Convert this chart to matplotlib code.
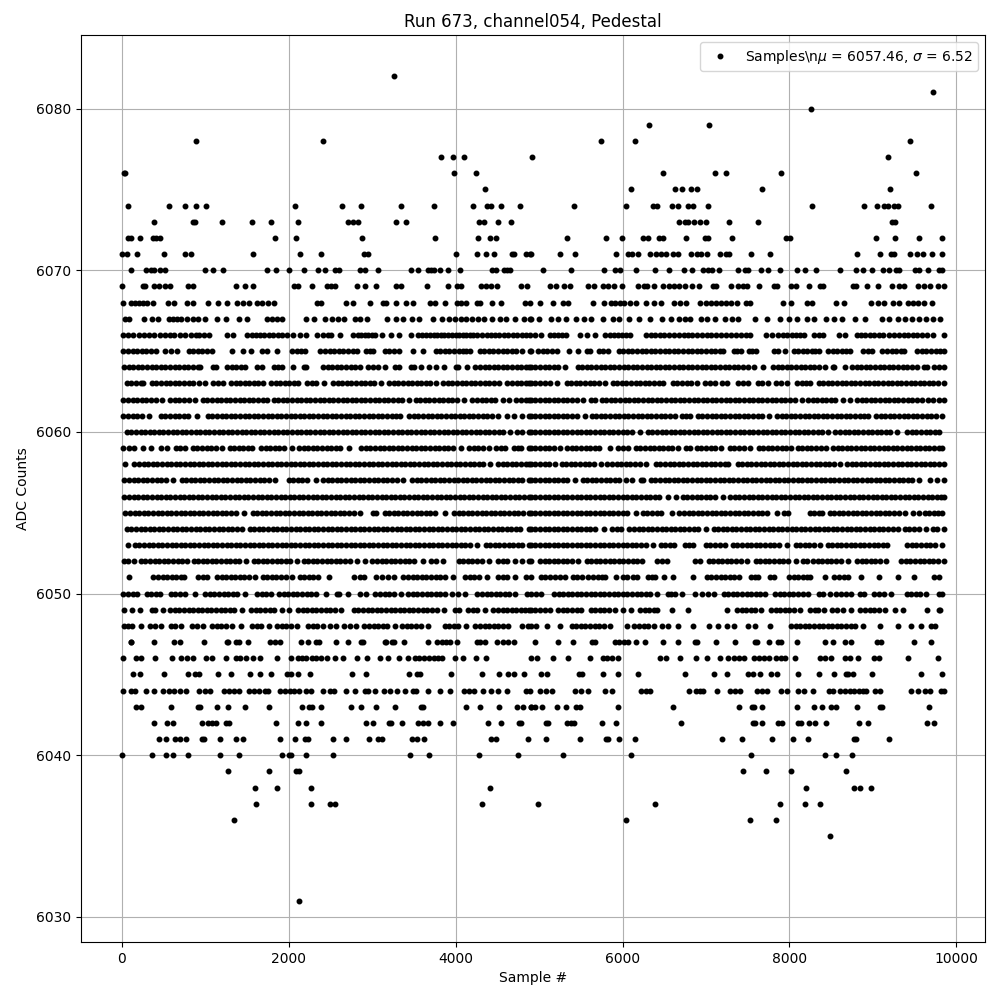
import matplotlib
matplotlib.use("Agg")
import matplotlib.pyplot as plt

s6082=[3256]
s6081=[9716]
s6080=[8255]
s6079=[6315,7034]
s6078=[892,2416,5740,6147,9441]
s6077=[3820,3964,4096,4918,9177]
s6076=[28,44,3976,4240,6483,7105,7237,7896,9512]
s6075=[4348,6100,6627,6715,6818,6886,7668,9201]
s6074=[76,568,760,892,1012,2080,2644,2872,3340,3736,4204,4380,4420,4540,4768,5417,6040,6359,6415,6591,6663,6782,6838,7022,8267,8890,9046,9130,9177,9249,9297,9692]
s6073=[388,856,876,1204,1564,1792,2116,2716,2776,2836,3280,3400,4276,4336,4504,4660,6674,6746,6782,6854,6926,6998,7273,7620,9225,9265]
s6072=[76,116,220,372,412,456,1840,2092,2884,3748,4264,4408,4480,5333,5800,5992,6243,6303,6435,6483,6758,6986,7022,7309,7956,8004,9034,9261,9549,9824]
s6071=[4,68,184,508,760,832,1576,2140,2392,2908,2948,4000,4252,4360,4456,4672,4696,4840,4888,4898,5249,5429,5920,6064,6112,6184,6327,6399,6459,6519,6603,6663,6818,6894,6938,7010,7165,7237,7273,7537,7764,8806,9082,9213,9249,9441,9525,9597,9705,9824]
s6070=[112,292,352,388,460,520,1000,1096,1216,1744,1852,2008,2188,2356,2440,2560,2608,2860,2920,3064,3460,3544,3664,3700,3736,3808,3904,4048,4432,4480,4576,4612,4648,5046,5381,5776,5908,5968,6159,6387,6555,6734,6830,6962,7022,7070,7154,7381,7465,7501,7657,7741,7884,8087,8183,8315,8603,8795,8878,8986,9118,9189,9273,9309,9501,9549,9655,9787,9824]
s6069=[4,256,280,388,448,520,580,796,856,1372,1480,1576,2068,2116,2284,2464,2512,2560,2824,2920,3052,3280,3340,3652,3904,4012,4060,4300,4360,4420,4492,4780,4852,5130,5202,5298,5370,5586,5658,5766,5826,5898,5994,6186,6258,6294,6378,6486,6558,6618,6678,6750,6834,6918,7086,7122,7302,7386,7446,7494,7638,7818,7854,8022,8082,8230,8370,8406,8766,8802,8934,9066,9234,9306,9366,9534,9606,9678,9774,9850]
s6068=[16,112,160,208,256,304,376,556,628,784,856,1036,1156,1264,1384,1456,1528,1624,1684,1756,1828,2344,2392,2692,2776,2980,3124,3160,3280,3400,3484,3688,3748,3868,4012,4060,4120,4252,4288,4432,4540,4828,4888,5010,5166,5286,5346,5646,5778,5862,5910,5970,6018,6090,6162,6282,6378,6462,6618,6690,6762,6930,7002,7062,7122,7182,7242,7302,7374,7482,7530,7926,8022,8214,8274,8562,8658,8982,9066,9138,9246,9306,9414,9474,9534,9606,9702]
s6067=[40,88,268,364,436,568,616,664,712,784,856,916,1000,1144,1252,1408,1504,1744,1804,1864,1924,2212,2308,2440,2524,2596,2668,2800,2860,2944,3172,3280,3364,3472,3556,3724,3832,3916,3988,4060,4120,4192,4264,4336,4432,4528,4600,4708,4816,4888,4898,4998,5142,5226,5322,5442,5538,5622,5766,5886,5958,6078,6198,6330,6474,6582,6678,6750,6810,6942,7014,7110,7230,7314,7386,7590,7734,7890,7998,8094,8214,8298,8442,8538,8634,8790,8910,9114,9198,9294,9378,9462,9546,9630,9714,9798]
s6066=[16,72,136,208,268,328,388,460,520,580,628,700,760,832,890,928,990,1048,1264,1336,1504,1560,1612,1660,1708,1760,1816,1870,1916,1980,2056,2140,2212,2344,2416,2470,2512,2620,2776,2825,2872,2915,2956,3000,3040,3112,3220,3316,3460,3544,3595,3640,3690,3736,3780,3820,3865,3904,3955,4000,4040,4084,4125,4168,4210,4252,4310,4372,4420,4468,4520,4576,4630,4684,4740,4792,4840,4888,4950,5018,5130,5180,5226,5275,5322,5490,5574,5670,5790,5850,5898,5945,5994,6040,6090,6282,6335,6390,6445,6498,6560,6618,6680,6738,6785,6834,6895,6954,7010,7062,7120,7182,7240,7302,7360,7422,7475,7530,7722,7790,7866,7920,7974,8030,8082,8130,8178,8298,8350,8406,8598,8670,8814,8860,8910,8965,9018,9070,9126,9190,9258,9310,9366,9420,9474,9530,9582,9650,9714,9846]
s6065=[20,75,130,185,240,295,350,416,520,590,656,800,855,910,965,1020,1076,1324,1456,1552,1680,1736,1864,2040,2095,2150,2196,2380,2435,2490,2545,2600,2655,2710,2765,2816,2928,2975,3016,3148,3205,3260,3316,3488,3604,3760,3815,3870,3925,3980,4035,4090,4130,4176,4288,4343,4398,4453,4508,4563,4618,4673,4728,4796,4888,4898,4990,5045,5100,5160,5218,5362,5466,5570,5614,5714,5770,5830,5954,6009,6064,6119,6174,6229,6284,6339,6394,6449,6504,6559,6614,6669,6724,6779,6834,6889,6944,6999,7054,7109,7164,7206,7330,7370,7414,7514,7555,7594,7810,7866,7950,8050,8105,8160,8215,8270,8310,8354,8466,8520,8575,8630,8680,8722,8882,8935,8986,9114,9170,9225,9280,9330,9370,9530,9585,9640,9695,9750,9805,9850]
s6064=[28,83,138,193,248,303,358,413,468,523,578,633,688,743,798,853,908,936,1092,1124,1260,1315,1370,1425,1476,1620,1676,1820,1870,1916,2056,2180,2204,2412,2467,2522,2577,2632,2687,2742,2797,2856,2952,3010,3068,3156,3276,3316,3468,3496,3580,3680,3770,3860,4008,4028,4132,4236,4291,4346,4401,4456,4511,4566,4621,4676,4731,4786,4841,4876,4900,4955,5010,5065,5120,5175,5230,5306,5462,5517,5572,5627,5682,5737,5792,5847,5902,5957,6012,6067,6122,6177,6232,6287,6342,6397,6452,6507,6562,6617,6672,6727,6782,6837,6892,6947,7002,7057,7112,7167,7222,7277,7332,7387,7442,7497,7570,7682,7802,7857,7912,7967,8022,8077,8132,8187,8242,8297,8352,8426,8522,8530,8670,8750,8805,8860,8915,8970,9025,9080,9135,9190,9245,9300,9355,9410,9465,9526,9610,9646,9730,9790,9846]
s6063=[60,115,170,225,256,360,415,470,525,580,635,690,745,800,855,924,1000,1092,1155,1216,1308,1363,1418,1473,1528,1583,1638,1696,1788,1843,1898,1953,2008,2063,2116,2220,2275,2330,2428,2532,2587,2642,2697,2752,2807,2862,2917,2972,3027,3108,3204,3259,3314,3369,3424,3479,3534,3589,3644,3696,3760,3852,3907,3962,4017,4072,4127,4182,4237,4292,4347,4402,4457,4524,4620,4675,4730,4785,4840,4876,4900,4955,5010,5065,5126,5218,5330,5385,5440,5495,5550,5605,5660,5715,5794,5882,5937,5992,6047,6102,6157,6212,6267,6322,6377,6432,6486,6602,6657,6712,6767,6822,6886,6986,7046,7106,7190,7254,7382,7440,7498,7622,7666,7746,7838,7894,7974,8090,8145,8200,8246,8350,8405,8460,8515,8570,8625,8680,8735,8790,8845,8900,8955,9010,9065,9120,9175,9230,9285,9340,9395,9450,9505,9560,9615,9670,9725,9780,9850]
s6062=[20,75,130,185,240,295,350,405,484,580,635,690,745,800,876,972,1027,1082,1137,1192,1247,1302,1357,1412,1467,1522,1577,1632,1687,1736,1820,1875,1930,1985,2040,2095,2150,2205,2260,2315,2370,2425,2480,2535,2590,2645,2700,2755,2810,2865,2920,2975,3030,3085,3140,3195,3250,3305,3360,3436,3520,3575,3630,3685,3740,3795,3850,3905,3960,4015,4096,4200,4255,4310,4365,4420,4476,4572,4636,4728,4783,4838,4876,4900,4955,5010,5065,5120,5175,5230,5285,5340,5395,5450,5526,5618,5666,5750,5805,5860,5915,5970,6025,6080,6135,6190,6245,6300,6355,6410,6465,6520,6575,6630,6685,6740,6795,6850,6905,6960,7015,7070,7125,7180,7235,7290,7345,7400,7455,7510,7565,7620,7675,7730,7785,7840,7895,7950,8005,8060,8146,8222,8277,8332,8387,8442,8497,8546,8638,8730,8810,8865,8920,8975,9030,9085,9140,9195,9250,9305,9360,9415,9470,9525,9586,9662,9724,9786,9850]
s6061=[20,75,130,185,240,324,468,523,578,633,688,743,796,904,1032,1087,1142,1197,1252,1307,1362,1417,1472,1527,1582,1637,1692,1747,1802,1857,1912,1967,2022,2077,2132,2187,2242,2297,2352,2407,2462,2517,2572,2627,2682,2737,2792,2847,2902,2957,3012,3067,3122,3177,3232,3287,3336,3444,3499,3554,3609,3664,3719,3774,3829,3884,3939,3994,4049,4104,4159,4214,4269,4324,4379,4434,4508,4620,4696,4800,4876,4900,4955,5010,5065,5120,5175,5230,5285,5340,5395,5450,5546,5630,5685,5740,5795,5850,5905,5960,6015,6070,6125,6180,6235,6290,6345,6400,6455,6510,6565,6626,6710,6760,6806,6902,6957,7012,7067,7122,7177,7232,7287,7342,7397,7452,7507,7562,7617,7672,7754,7850,7905,7960,8015,8070,8125,8180,8235,8290,8345,8400,8455,8510,8565,8620,8675,8730,8785,8840,8895,8946,9038,9093,9148,9203,9258,9313,9368,9423,9478,9533,9588,9643,9698,9753,9826]
s6060=[60,115,170,225,280,335,390,445,500,555,610,665,720,775,830,885,940,995,1050,1105,1160,1215,1270,1325,1380,1435,1490,1545,1600,1655,1710,1765,1820,1875,1930,1985,2040,2095,2150,2205,2260,2315,2370,2425,2480,2535,2590,2645,2700,2755,2810,2865,2920,2975,3030,3085,3140,3195,3250,3305,3360,3415,3470,3525,3580,3635,3690,3745,3800,3855,3910,3965,4020,4075,4130,4185,4240,4295,4350,4405,4460,4515,4570,4648,4740,4795,4876,4900,4955,5010,5065,5120,5175,5230,5285,5340,5395,5450,5505,5560,5615,5670,5725,5780,5835,5890,5945,6000,6055,6110,6206,6302,6357,6412,6467,6522,6577,6632,6687,6742,6797,6852,6907,6962,7017,7072,7127,7182,7237,7292,7347,7402,7457,7512,7567,7622,7677,7732,7787,7842,7897,7952,8007,8062,8117,8172,8227,8282,8337,8392,8466,8550,8605,8660,8715,8770,8825,8880,8935,8990,9045,9100,9155,9210,9286,9410,9465,9520,9575,9630,9685,9740,9786]
s6059=[20,85,148,260,348,468,548,648,700,756,852,907,962,1017,1072,1127,1196,1292,1347,1402,1457,1512,1556,1668,1723,1778,1833,1888,1943,2036,2124,2179,2234,2289,2344,2399,2454,2509,2564,2619,2724,2868,2923,2978,3033,3088,3143,3198,3253,3308,3363,3418,3473,3528,3583,3638,3693,3748,3803,3858,3913,3968,4060,4164,4219,4274,4329,4396,4484,4540,4588,4700,4750,4788,4884,4900,4955,5010,5065,5120,5175,5254,5338,5393,5448,5503,5558,5613,5668,5723,5850,5942,6005,6066,6158,6213,6268,6323,6378,6433,6488,6543,6598,6666,6758,6810,6890,6945,7000,7055,7110,7178,7286,7341,7396,7451,7526,7630,7685,7740,7795,7850,7905,7960,8018,8098,8153,8208,8263,8318,8373,8442,8522,8577,8632,8687,8742,8797,8852,8907,8962,9017,9072,9127,9182,9237,9292,9347,9402,9457,9512,9567,9622,9677,9732,9787,9826]
s6058=[38,152,207,262,317,372,427,482,537,592,647,702,757,812,867,922,977,1032,1087,1142,1197,1252,1307,1362,1417,1472,1527,1582,1637,1692,1747,1802,1857,1912,1967,2022,2077,2132,2187,2242,2297,2352,2407,2462,2517,2572,2627,2682,2737,2792,2847,2902,2957,3012,3067,3122,3177,3232,3287,3342,3397,3452,3507,3562,3617,3672,3727,3782,3837,3892,3947,4002,4057,4112,4167,4222,4277,4332,4408,4508,4563,4618,4673,4728,4783,4838,4876,4900,4955,5010,5065,5120,5186,5270,5325,5380,5435,5490,5545,5600,5655,5738,5818,5873,5928,5983,6038,6093,6148,6203,6286,6398,6453,6508,6563,6618,6673,6728,6783,6838,6893,6948,7003,7058,7113,7168,7223,7266,7378,7433,7488,7543,7598,7653,7708,7763,7818,7873,7928,7983,8038,8093,8148,8203,8258,8313,8368,8423,8478,8533,8610,8690,8745,8800,8855,8910,8965,9020,9075,9130,9185,9240,9295,9350,9405,9460,9515,9570,9625,9680,9735,9790,9850]
s6057=[32,87,142,197,252,307,362,417,472,527,616,716,771,826,881,936,991,1046,1101,1156,1211,1266,1321,1376,1431,1486,1541,1596,1651,1706,1761,1836,2000,2055,2110,2165,2220,2324,2412,2467,2522,2577,2632,2687,2742,2797,2852,2907,2962,3017,3072,3127,3182,3237,3292,3368,3480,3535,3590,3645,3700,3755,3810,3865,3920,3975,4030,4085,4140,4195,4250,4305,4360,4415,4470,4525,4580,4635,4690,4745,4800,4876,4900,4955,5010,5065,5120,5175,5230,5285,5340,5426,5522,5577,5632,5687,5742,5797,5852,5907,5962,6042,6118,6218,6250,6338,6393,6448,6503,6558,6613,6668,6723,6778,6833,6888,6943,6998,7053,7108,7163,7218,7273,7328,7383,7438,7493,7548,7603,7658,7713,7768,7823,7878,7933,7988,8043,8098,8153,8208,8263,8318,8373,8428,8483,8538,8593,8648,8703,8758,8813,8868,8923,8978,9033,9088,9143,9198,9253,9308,9363,9418,9473,9554,9680,9770,9850]
s6056=[32,87,142,197,252,307,362,417,472,527,582,637,692,747,802,857,912,967,1022,1077,1132,1187,1242,1297,1352,1407,1462,1517,1572,1627,1682,1737,1792,1847,1902,1957,2012,2067,2122,2177,2232,2287,2342,2397,2452,2507,2562,2617,2672,2727,2782,2837,2892,2947,3002,3057,3112,3167,3222,3277,3332,3387,3442,3497,3552,3607,3662,3717,3772,3827,3882,3937,3992,4047,4102,4157,4212,4267,4322,4377,4432,4487,4542,4597,4652,4707,4762,4817,4876,4900,4955,5010,5065,5120,5175,5230,5285,5340,5395,5450,5505,5560,5615,5670,5725,5780,5835,5890,5945,6000,6055,6110,6165,6220,6275,6330,6385,6440,6546,6636,6722,6777,6832,6887,6942,6997,7052,7107,7206,7290,7345,7400,7455,7510,7565,7620,7675,7730,7785,7840,7895,7950,8005,8060,8115,8170,8225,8280,8335,8390,8445,8500,8555,8610,8665,8720,8775,8830,8885,8940,8995,9050,9105,9160,9215,9270,9325,9380,9435,9490,9545,9600,9655,9710,9765,9820,9850]
s6055=[44,99,154,209,264,319,374,429,484,539,594,649,704,759,814,869,924,979,1034,1089,1144,1199,1254,1309,1364,1468,1568,1623,1678,1733,1788,1843,1898,1953,2008,2063,2118,2173,2228,2283,2338,2393,2448,2503,2558,2613,2668,2723,2778,2860,3012,3044,3148,3203,3258,3313,3368,3423,3478,3533,3588,3643,3698,3753,3876,3980,4035,4090,4145,4200,4255,4310,4365,4420,4475,4530,4585,4640,4695,4750,4805,4876,4900,4955,5010,5065,5120,5175,5230,5285,5340,5395,5450,5505,5560,5615,5670,5725,5780,5835,5890,5945,6000,6055,6166,6242,6297,6352,6407,6462,6594,6682,6737,6792,6847,6902,6957,7012,7067,7122,7177,7232,7287,7342,7397,7452,7507,7562,7617,7672,7727,7846,7938,7986,8242,8297,8352,8394,8482,8537,8592,8647,8702,8757,8812,8867,8922,8977,9032,9087,9142,9197,9252,9307,9386,9482,9546,9618,9673,9728,9783,9826]
s6054=[60,115,170,225,280,335,390,445,500,555,610,665,720,775,830,885,940,995,1050,1105,1160,1215,1270,1325,1380,1444,1532,1587,1642,1697,1752,1807,1862,1917,1972,2027,2082,2137,2192,2247,2302,2357,2412,2467,2522,2577,2632,2687,2742,2797,2852,2907,2962,3017,3072,3127,3182,3237,3292,3347,3402,3457,3512,3567,3622,3677,3732,3787,3842,3897,3952,4007,4062,4117,4172,4227,4282,4337,4392,4447,4502,4557,4612,4667,4722,4777,4876,4900,4955,5010,5065,5120,5175,5230,5285,5340,5395,5450,5505,5560,5615,5670,5778,5870,5930,5986,6082,6137,6192,6247,6302,6357,6412,6467,6522,6577,6632,6687,6742,6797,6852,6907,6998,7090,7145,7200,7255,7310,7365,7420,7475,7530,7585,7640,7695,7750,7805,7860,7915,7970,8025,8080,8135,8190,8245,8300,8355,8410,8465,8520,8575,8630,8685,8740,8795,8850,8905,8960,9015,9070,9125,9180,9235,9298,9382,9437,9492,9547,9634,9718,9773,9850]
s6053=[72,156,211,266,321,376,431,486,541,596,651,706,761,816,871,926,981,1036,1091,1146,1201,1256,1311,1366,1421,1476,1531,1586,1641,1696,1751,1806,1861,1916,1971,2026,2081,2136,2191,2246,2301,2356,2411,2466,2521,2576,2631,2686,2741,2796,2851,2906,2961,3016,3071,3126,3181,3236,3291,3346,3401,3456,3511,3566,3621,3676,3731,3786,3841,3896,3951,4006,4061,4116,4171,4256,4360,4415,4470,4525,4580,4635,4690,4745,4800,4876,4900,4955,5010,5065,5120,5175,5230,5285,5340,5395,5450,5505,5560,5615,5670,5725,5780,5835,5890,5945,6000,6055,6110,6165,6220,6275,6366,6458,6513,6568,6618,6746,6800,6846,6998,7053,7108,7163,7226,7322,7377,7432,7487,7542,7597,7652,7707,7762,7817,7872,7966,8074,8129,8184,8239,8294,8370,8458,8513,8568,8623,8678,8733,8788,8843,8898,8953,9008,9063,9118,9174,9410,9465,9520,9575,9630,9685,9740,9826]
s6052=[32,76,150,228,283,338,393,448,503,558,613,668,723,776,860,915,970,1025,1080,1135,1190,1245,1300,1355,1410,1484,1580,1635,1690,1745,1800,1855,1910,1965,2020,2096,2180,2235,2290,2345,2400,2455,2510,2565,2620,2675,2730,2816,2912,3004,3059,3114,3169,3224,3279,3334,3389,3444,3499,3604,3700,3770,3844,4036,4091,4146,4201,4256,4311,4396,4508,4563,4618,4708,4800,4876,4898,5010,5065,5120,5175,5230,5285,5340,5395,5466,5570,5625,5680,5735,5790,5845,5900,5955,6010,6065,6120,6175,6234,6410,6470,6534,6862,6926,7030,7085,7140,7195,7250,7305,7360,7415,7494,7594,7649,7704,7759,7814,7869,7924,7979,8074,8162,8206,8282,8337,8392,8447,8502,8557,8612,8706,8810,8865,8920,8975,9030,9085,9154,9338,9393,9448,9503,9558,9613,9668,9723,9778,9850]
s6051=[84,380,435,490,545,600,655,710,748,916,970,1016,1140,1195,1250,1305,1360,1415,1470,1525,1596,1688,1743,1798,1853,1908,1963,2044,2132,2187,2242,2297,2356,2480,2780,2850,2908,3044,3115,3185,3256,3372,3430,3485,3540,3595,3650,3705,3760,3815,3870,3964,4116,4171,4226,4281,4376,4508,4563,4618,4708,4840,4900,5018,5075,5135,5195,5255,5314,5402,5460,5520,5580,5640,5700,5750,5794,5922,6010,6050,6130,6170,6302,6350,6394,6498,6610,6846,7010,7065,7120,7175,7230,7285,7340,7394,7538,7590,7626,7762,7818,7994,8050,8105,8160,8205,8246,8430,8530,8590,8650,8706,8856,9074,9298,9486,9730,9794]
s6050=[20,75,130,188,300,355,410,460,588,643,700,756,880,1000,1055,1110,1165,1220,1275,1330,1385,1476,1620,1675,1730,1788,1884,1939,1994,2049,2104,2159,2214,2269,2324,2448,2580,2604,2714,2860,2924,3040,3095,3150,3205,3260,3348,3432,3487,3542,3597,3652,3707,3762,3817,3872,3956,4028,4116,4260,4315,4370,4425,4480,4535,4590,4645,4716,4860,4900,4960,5026,5178,5233,5288,5343,5398,5453,5508,5563,5618,5673,5728,5783,5838,5893,5948,6003,6058,6113,6168,6223,6278,6333,6414,6542,6585,6626,6718,6870,6954,7026,7098,7210,7265,7320,7375,7430,7485,7540,7595,7650,7706,7826,7881,7936,7991,8046,8101,8156,8226,8350,8405,8490,8562,8617,8672,8738,8842,8898,9018,9075,9130,9222,9402,9457,9512,9567,9634,9786,9826]
s6049=[28,128,224,360,396,496,580,635,690,745,800,855,910,965,1020,1075,1130,1185,1240,1295,1350,1436,1552,1607,1662,1717,1772,1827,1916,2008,2112,2167,2222,2277,2332,2387,2442,2497,2552,2628,2780,2835,2890,2945,3000,3055,3110,3165,3220,3275,3330,3385,3440,3495,3550,3605,3660,3715,3776,3860,3988,4036,4152,4207,4262,4356,4452,4507,4562,4617,4672,4727,4782,4837,4876,4900,4955,5010,5065,5126,5230,5285,5340,5395,5450,5506,5618,5673,5728,5783,5838,5906,6010,6102,6210,6265,6320,6375,6410,6592,6786,7254,7370,7425,7480,7535,7590,7658,7778,7833,7888,7943,7998,8053,8126,8250,8300,8346,8410,8510,8565,8646,8742,8850,8905,8960,9015,9070,9146,9270,9362,9644,9790,9806]
s6048=[28,80,124,232,340,400,468,588,643,708,840,900,976,1084,1139,1194,1249,1316,1432,1560,1615,1668,1768,1860,1915,1970,2025,2096,2232,2287,2342,2416,2500,2572,2668,2736,2812,2908,2963,3018,3073,3128,3176,3268,3360,3415,3470,3525,3580,3668,3868,3923,3978,4033,4124,4236,4291,4346,4401,4456,4511,4566,4628,4792,4868,4898,4960,5098,5250,5390,5445,5500,5555,5610,5665,5720,5775,5846,6058,6142,6197,6252,6307,6378,6470,6546,6666,6844,7038,7138,7254,7338,7506,7590,7768,8018,8073,8128,8183,8238,8293,8348,8403,8458,8513,8568,8623,8678,8733,8788,8878,9090,9294,9460,9578,9690,9746]
s6047=[108,116,388,628,700,980,1260,1276,1372,1408,1508,1780,1840,1900,2152,2236,2332,2368,2568,2716,2868,2888,3152,3168,3236,3264,3384,3668,3780,3835,3890,3936,4020,4260,4288,4348,4500,4565,4630,4696,4950,5226,5402,5630,5674,5906,5960,6015,6066,6162,6268,6486,6666,6866,6886,7122,7350,7586,7606,7758,7866,7898,8094,8430,8526,8670,8742,9054,9102,9486,9690]
s6046=[16,172,236,400,604,712,780,856,1012,1076,1252,1372,1420,1492,1576,1652,1864,2032,2116,2164,2212,2284,2332,2392,2464,2560,2656,2824,2944,3088,3184,3316,3424,3508,3565,3625,3680,3740,3788,3832,3988,4084,4240,4360,4900,4978,5166,5346,5610,5766,5814,5874,5946,6450,6522,6690,6882,7014,7170,7266,7338,7398,7458,7578,7640,7700,7760,7838,7902,7950,8070,8370,8430,8502,8670,8730,8826,9018,9078,9414,9774]
s6045=[136,220,508,796,880,928,1156,1312,1540,1660,1792,1984,2032,2112,2260,2764,2932,3436,3532,3568,3940,4312,4516,4624,4696,4816,5022,5094,5478,5514,5766,5946,6186,6750,7098,7254,7506,7566,7650,7782,7854,8106,8358,8538,8682,8706,8766,8994,9570,9822]
s6044=[16,112,160,292,388,496,568,628,700,772,928,1000,1060,1228,1288,1348,1408,1528,1588,1648,1720,1756,1900,1955,2010,2060,2128,2212,2268,2416,2500,2548,2692,2800,2920,2956,3040,3136,3208,3292,3388,3484,3524,3664,3808,3928,4096,4156,4216,4324,4420,4504,4616,4840,4888,5010,5082,5158,5430,5502,5586,5790,5874,6222,6278,6330,6798,6882,6922,6966,7134,7290,7350,7410,7614,7674,7734,7902,7974,8106,8178,8286,8478,8526,8610,8665,8720,8775,8830,8885,8922,9030,9090,9450,9534,9618,9682,9810,9850]
s6043=[172,232,592,916,940,1144,1276,1480,1768,2164,2248,2284,2392,2752,2872,3052,3268,3580,3604,4120,4288,4516,4732,4804,4900,4898,4950,5034,5214,5322,5442,5490,5946,6606,7398,7554,7578,7674,8094,8298,8394,8502,8562,8814,9090,9114,9666]
s6042=[388,544,616,964,1036,1084,1132,1252,1288,1852,2116,2212,2392,2932,3016,3196,3220,3352,3544,3604,3664,3808,3964,4384,4540,4756,4780,5082,5106,5334,5378,5418,5754,5922,6702,7566,7590,7674,7866,7914,8106,8142,8238,8310,8442,8838,8946,9642,9726]
s6041=[448,532,640,700,772,964,988,1180,1372,1456,1900,2080,2200,2236,2536,2692,2968,3064,3112,3472,3532,3616,4420,4480,4864,5082,5490,5802,5826,5958,6150,7194,7434,7794,8046,8226,8778,8802,9198]
s6040=[4,364,532,616,796,1180,1408,1924,2008,2032,2212,2536,3448,3676,4276,4744,5286,6102,7542,8430,8562,8754]
s6039=[1276,1768,2092,2128,7446,7722,8022,8682]
s6038=[1600,1864,2272,4408,8202,8778,8850,8982]
s6037=[1612,2272,2500,2560,4312,4986,6390,7890,8190,8370]
s6036=[1348,6042,7530,7842]
s6035=[8490]
s6031=[2128]

levels=[6082,6081,6080,6079,6078,6077,6076,6075,6074,6073,6072,6071,6070,6069,6068,6067,6066,6065,6064,6063,6062,6061,6060,6059,6058,6057,6056,6055,6054,6053,6052,6051,6050,6049,6048,6047,6046,6045,6044,6043,6042,6041,6040,6039,6038,6037,6036,6035,6031]
rows=[s6082,s6081,s6080,s6079,s6078,s6077,s6076,s6075,s6074,s6073,s6072,s6071,s6070,s6069,s6068,s6067,s6066,s6065,s6064,s6063,s6062,s6061,s6060,s6059,s6058,s6057,s6056,s6055,s6054,s6053,s6052,s6051,s6050,s6049,s6048,s6047,s6046,s6045,s6044,s6043,s6042,s6041,s6040,s6039,s6038,s6037,s6036,s6035,s6031]

samples=[]
counts=[]
for level,row in zip(levels,rows):
    samples+=row
    counts+=[level]*len(row)

fig,ax=plt.subplots(figsize=(10,10),dpi=100)
ax.plot(samples,counts,'k.',markersize=6.5,label='Samples\\n$\\mu$ = 6057.46, $\\sigma$ = 6.52')
ax.set_title('Run 673, channel054, Pedestal')
ax.set_xlabel('Sample #')
ax.set_ylabel('ADC Counts')
ax.grid(True)
ax.legend(loc='upper right')
fig.subplots_adjust(left=0.081,right=0.985,top=0.965,bottom=0.058)
fig.savefig('out.png')
